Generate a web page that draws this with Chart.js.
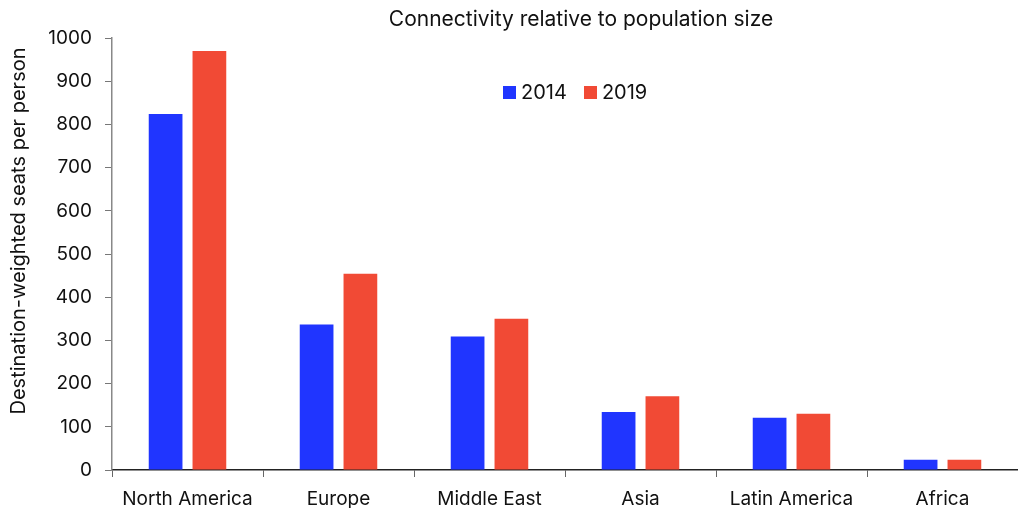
<!DOCTYPE html>
<html>
<head>
<meta charset="utf-8">
<script src="https://cdn.jsdelivr.net/npm/chart.js@4.4.1/dist/chart.umd.min.js"></script>
<style>
    html, body { margin: 0; padding: 0; background: #fff; }
    #wrap { position: relative; width: 1018px; height: 508px; }
    #legend {
        position: absolute; left: 503px; top: 80px;
        font-family: Inter, "Liberation Sans", sans-serif; font-size: 20px; color: #111;
        display: flex; align-items: center;
    }
    #legend span.box { display: inline-block; width: 13px; height: 13px; margin-right: 5px; }
    #legend span.item { display: flex; align-items: center; margin-right: 17px; }
</style>
</head>
<body>
<div id="wrap">
    <canvas id="chart" width="1018" height="508"></canvas>
    <div id="legend"></div>
</div>
<script>
// ================= DATA =================
const categories = ['North America', 'Europe', 'Middle East', 'Asia', 'Latin America', 'Africa'];
const seriesNames = ['2014', '2019'];
const values2014 = [824, 337, 309, 134, 121, 24];
const values2019 = [970, 454, 350, 171, 130, 24];
const yTicks = [0, 100, 200, 300, 400, 500, 600, 700, 800, 900, 1000];

const titleText = 'Connectivity relative to population size';
const yTitleText = 'Destination-weighted seats per person';

const colors = ['#2035ff', '#f14a35'];
const FONT = 'Inter, "Liberation Sans", sans-serif';

// ================= LEGEND (inside plot) =================
document.getElementById('legend').innerHTML = seriesNames.map((name, i) => `
    <span class="item"><span class="box" style="background:${colors[i]}"></span>${name}</span>
`).join('');

// title + y-axis title drawn by hand, the reference has them off-centre
const titlesPlugin = {
    id: 'titles',
    afterDraw(chart) {
        const ctx = chart.ctx;
        ctx.save();
        ctx.fillStyle = '#111';
        ctx.font = '21px ' + FONT;
        ctx.textAlign = 'center';
        ctx.textBaseline = 'alphabetic';
        ctx.fillText(titleText, 581, 26);

        ctx.font = '20px ' + FONT;
        ctx.translate(19, 231);
        ctx.rotate(-Math.PI / 2);
        ctx.textBaseline = 'middle';
        ctx.fillText(yTitleText, 0, 0);
        ctx.restore();
    }
};

// ================= CHART =================
new Chart(document.getElementById('chart'), {
    type: 'bar',
    data: {
        labels: categories,
        datasets: [
            { label: seriesNames[0], data: values2014, backgroundColor: colors[0] },
            { label: seriesNames[1], data: values2019, backgroundColor: colors[1] }
        ]
    },
    plugins: [titlesPlugin],
    options: {
        responsive: false,
        animation: false,
        layout: { padding: { top: 38, left: 0, right: 0, bottom: 0 } },
        datasets: { bar: { categoryPercentage: 0.58, barPercentage: 0.77 } },
        plugins: {
            legend: { display: false },
            tooltip: { enabled: false }
        },
        scales: {
            x: {
                afterFit: axis => { axis.height = 38; },
                grid: { drawOnChartArea: false, drawTicks: true, tickLength: 7, color: '#666' },
                border: { display: true, color: '#222', width: 1.5 },
                ticks: { color: '#111', font: { family: FONT, size: 19 }, padding: 11 }
            },
            y: {
                min: 0,
                max: 1000,
                afterFit: axis => { axis.width = 112; },
                afterBuildTicks: axis => { axis.ticks = yTicks.map(v => ({ value: v })); },
                grid: { drawOnChartArea: false, drawTicks: true, tickLength: 7, color: '#777' },
                border: { display: true, color: '#888', width: 1.5 },
                ticks: {
                    color: '#111', font: { family: FONT, size: 19 }, padding: 13,
                    callback: v => String(v)
                }
            }
        }
    }
});
</script>
</body>
</html>
